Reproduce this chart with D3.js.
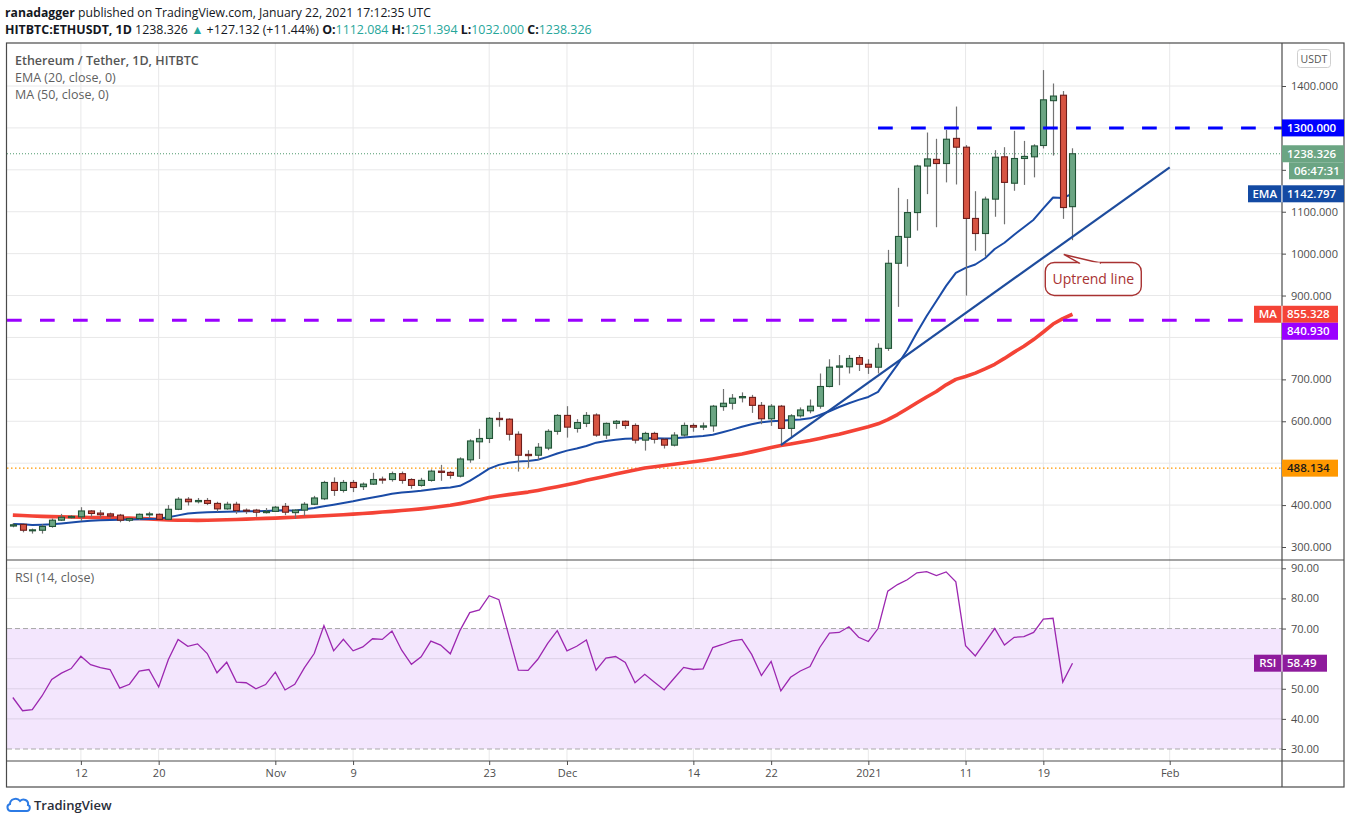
<!DOCTYPE html>
<html><head><meta charset="utf-8">
<script src="https://cdn.jsdelivr.net/npm/d3@7/dist/d3.min.js"></script>
<style>
html,body{margin:0;padding:0;background:#fff;}
svg{display:block;font-family:"Open Sans","Noto Sans",sans-serif;}
</style></head><body>
<svg id="c" width="1351" height="824"></svg>
<script>
// ---------------- DATA ----------------
const firstDay = "2020-10-05"; // daily candles, consecutive days
const opens = [350,354,340,340,349,364,370,372,386,381,
  379,376,364,368,378,378,366,390,414,408,
  411,404,391,402,388,388,382,385,397,382,
  388,402,415,454,435,454,444,450,462,461,
  475,461,447,459,481,478,469,508,551,559,
  607,605,569,521,519,536,576,614,583,595,
  615,567,595,600,590,555,571,557,543,567,
  590,586,589,635,643,656,657,638,606,636,
  583,613,625,636,683,729,730,752,736,729,
  774,977,1039,1098,1209,1225,1215,1275,1254,1084,
  1048,1130,1231,1168,1227,1231,1258,1365,1378,1112.084];
const highs = [357,356,344,354,368,379,376,395,388,388,
  382,379,370,380,384,380,400,419,419,417,
  417,408,408,408,392,391,393,398,405,390,
  407,422,458,466,460,460,454,477,468,480,
  480,464,465,485,496,481,514,557,582,610,
  622,607,576,531,548,581,617,636,605,622,
  619,597,603,602,595,575,575,559,574,597,
  595,597,639,677,665,669,663,646,641,639,
  617,633,652,714,748,758,758,758,748,786,
  1009,1157,1130,1212,1289,1274,1295,1351,1259,1149,
  1136,1247,1254,1293,1269,1261,1438,1406,1388,1251.394];
const lows = [347,335,332,332,346,362,368,362,372,370,
  368,359,360,365,369,364,364,388,399,404,
  400,384,389,379,379,372,380,384,376,368,
  374,400,412,422,430,431,436,448,451,456,
  451,439,444,456,458,463,466,501,510,548,
  587,554,480,489,508,531,568,561,573,586,
  563,558,582,582,547,530,547,535,540,563,
  575,579,575,625,628,645,620,593,589,543,
  562,609,619,630,681,686,714,720,713,714,
  768,873,969,1055,1142,1063,1170,1165,900,1007,
  993,1088,1070,1150,1164,1182,1251,1234,1083,1032];
const closes = [353,340,341,349,364,371,373,386,380,377,
  374,364,368,378,379,366,390,414,408,411,
  404,391,402,387,386,383,385,395,383,388,
  402,417,454,435,454,442,450,461,461,475,
  459,447,459,481,478,471,510,553,559,607,
  604,569,519,518,538,576,614,586,597,614,
  567,595,600,590,555,571,557,543,567,590,
  586,589,636,643,655,659,638,606,636,583,
  613,627,636,683,729,732,750,736,729,774,
  977,1041,1098,1209,1226,1215,1273,1254,1084,1048,
  1130,1230,1170,1227,1232,1257,1367,1376,1110,1238.326];
const ema20 = [355,354,352.5,353,354,356,358.5,361,362.5,363.6,
  364.5,365,365.5,366.3,367,367.6,371,375.5,380,381.5,
  383,383.5,384,385,385.2,385.5,386,387,387.5,386.5,
  390,393,397,401,405,409,414,418,422.5,427,
  430,432,434,437,440,442,446,458,472,487,
  496,501,504,505,508,515,523,530,535,541,
  549,553,556,558.5,559,559.3,559.3,559,559.3,561,
  563,565,568,574,580,587,593,597.5,600,601,
  603,604.5,607,615,624,634,643,651,658,670,
  703,735,770,812,851,887,923,954,966,974,
  989,1011,1026,1045,1063,1081,1108,1134,1133,1142.797];
const ma50 = [376,375,374,373,372.5,372,371.5,371,370.5,370,
  369.6,369.3,369,368,367,365.5,364.4,364,363.8,363.6,
  364,364.5,365,365.5,366.5,367.5,368.4,369,370,371,
  372.5,373.5,374.5,375.8,377,378.5,380,381.5,383.5,385,
  387,389,391,393.5,396.5,399.5,403.5,408,413,418,
  421.5,425,428,431,435,439.5,444,448.5,453.5,459,
  464,469,474,479,483.5,488.5,491.5,494.5,497.3,500.5,
  503.5,506.5,510,514,518,522,527,532,537.5,542,
  546,550,554,559,564,569,575,581,587,594,
  604,616,630,644,658,671,687,700,707,715,
  725,736,750,765,779,795,813,832,845,855.328];
const rsi14 = [47.1,42.7,43.1,47.6,53.1,55.2,56.7,60.8,58.0,57.0,
  56.4,50.2,51.5,55.9,56.4,50.6,59.7,66.4,64.1,64.9,
  61.7,55.3,58.8,52.2,52.0,50.0,51.4,55.5,49.6,51.5,
  57.0,61.7,71.0,62.6,66.4,62.6,63.9,66.6,66.4,69.2,
  62.8,58.1,60.6,65.8,64.5,61.6,69.4,75.3,76.2,80.9,
  79.6,67.9,56.2,56.1,59.8,65.0,69.3,62.6,64.1,66.2,
  56.2,60.2,60.7,58.7,52.0,54.8,52.2,49.6,53.4,57.1,
  56.4,56.6,63.7,64.7,65.9,66.4,61.4,54.4,59.1,49.3,
  53.8,55.9,57.4,63.7,68.5,68.7,70.6,67.1,65.7,70.0,
  82.4,84.6,86.2,88.5,88.9,87.6,88.8,85.5,64.3,60.9,
  65.4,70.0,64.5,67.1,67.3,68.7,73.1,73.4,52.2,58.49];

const timeTickDates = ["2020-10-12","2020-10-20","2020-11-01","2020-11-09","2020-11-23","2020-12-01","2020-12-14","2020-12-22","2021-01-01","2021-01-11","2021-01-19","2021-02-01"];
const timeTickLabels = ["12","20","Nov","9","23","Dec","14","22","2021","11","19","Feb"];
const priceTicks = [300,400,500,600,700,800,900,1000,1100,1200,1300,1400];
const rsiTicks = [30,40,50,60,70,80,90];

const resistanceLevel = 1300, resistanceFrom = "2021-01-02";
const supportLevel = 840.93;
const priorHighLevel = 488.134;
const lastPrice = 1238.326;
const countdown = "06:47:31";
const trendPoints = [["2020-12-23",543],["2021-02-01",1206]];
const calloutText = "Uptrend line";
const calloutAnchor = ["2021-01-21", 998];

// ---------------- LAYOUT ----------------
const L = 7, R = 1282, AX = 1344, TOP = 43, PB = 560, RB = 761, TB = 787;
const parse = s => new Date(s + "T00:00:00Z");
const day0 = parse(firstDay);
const dates = closes.map((_, i) => d3.utcDay.offset(day0, i));

const svg = d3.select("#c");
svg.append("rect").attr("width",1351).attr("height",824).attr("fill","#fff");

const x = d3.scaleUtc()
  .domain([new Date(Date.UTC(2020,9,4,9,36)), new Date(Date.UTC(2021,1,12,13,12))])
  .range([L, R]);
const y = d3.scaleLinear().domain([300,1400]).range([547,86]);
const yr = d3.scaleLinear().domain([30,90]).range([749,568.3]);

const defs = svg.append("defs");
defs.append("clipPath").attr("id","cp").append("rect").attr("x",L).attr("y",TOP).attr("width",R-L).attr("height",PB-TOP);
defs.append("clipPath").attr("id","cr").append("rect").attr("x",L).attr("y",PB).attr("width",R-L).attr("height",RB-PB);

const gridC = "#e8e8e9";
svg.append("g").selectAll("line").data(timeTickDates).join("line")
  .attr("x1", d => x(parse(d))).attr("x2", d => x(parse(d)))
  .attr("y1", TOP).attr("y2", RB).attr("stroke", gridC);
svg.append("g").selectAll("line").data(priceTicks).join("line")
  .attr("x1", L).attr("x2", R).attr("y1", d => y(d)).attr("y2", d => y(d)).attr("stroke", gridC);

// RSI band
svg.append("rect").attr("x", L).attr("width", R-L).attr("y", yr(70)).attr("height", yr(30)-yr(70)).attr("fill", "#f3e6fd");
svg.append("g").selectAll("line").data(rsiTicks.filter(v => v!==70 && v!==30)).join("line")
  .attr("x1", L).attr("x2", R).attr("y1", d => yr(d)).attr("y2", d => yr(d)).attr("stroke","rgba(0,0,0,0.09)");
svg.append("g").selectAll("line").data([70,30]).join("line")
  .attr("x1", L).attr("x2", R).attr("y1", d => yr(d)).attr("y2", d => yr(d))
  .attr("stroke","#a9a9a9").attr("stroke-dasharray","5,3");

// ---------------- PRICE PANE ----------------
const gp = svg.append("g").attr("clip-path","url(#cp)");
gp.append("line").attr("x1",L).attr("x2",R).attr("y1",y(priorHighLevel)).attr("y2",y(priorHighLevel))
  .attr("stroke","#ff9800").attr("stroke-width",1.4).attr("stroke-dasharray","1.5,2.5");
gp.append("line").attr("x1",L).attr("x2",R).attr("y1",y(lastPrice)).attr("y2",y(lastPrice))
  .attr("stroke","#4f9a6e").attr("stroke-width",1).attr("stroke-dasharray","1,2");

const lineGen = arr => d3.line().x((d,i) => x(dates[i])).y(d => y(d))(arr);
gp.append("path").attr("d", lineGen(ma50)).attr("fill","none").attr("stroke","#f44336").attr("stroke-width",3.6).attr("stroke-linejoin","round");
gp.append("path").attr("d", lineGen(ema20)).attr("fill","none").attr("stroke","#1a4ba6").attr("stroke-width",2).attr("stroke-linejoin","round");

// candles
const bw = 6;
const cg = gp.append("g");
dates.forEach((d, i) => {
  const up = closes[i] >= opens[i];
  const cx = Math.round(x(d)) + 0.5;
  cg.append("line").attr("x1",cx).attr("x2",cx).attr("y1",y(highs[i])).attr("y2",y(lows[i]))
    .attr("stroke","#737373").attr("stroke-width",1.2);
  const top = y(Math.max(opens[i], closes[i])), bot = y(Math.min(opens[i], closes[i]));
  cg.append("rect").attr("x", cx - bw/2).attr("width", bw)
    .attr("y", top).attr("height", Math.max(1, bot - top))
    .attr("fill", up ? "#6ba583" : "#d75442")
    .attr("stroke", up ? "#225437" : "#6d1d1b").attr("stroke-width", 1.1);
});

// trend line
gp.append("line")
  .attr("x1", x(parse(trendPoints[0][0]))).attr("y1", y(trendPoints[0][1]))
  .attr("x2", x(parse(trendPoints[1][0]))).attr("y2", y(trendPoints[1][1]))
  .attr("stroke","#1e4c9d").attr("stroke-width",2.2);

// horizontal levels
gp.append("line").attr("x1", L).attr("x2", R).attr("y1", y(supportLevel)).attr("y2", y(supportLevel))
  .attr("stroke","#9a00ff").attr("stroke-width",3).attr("stroke-dasharray","14.7,18.3");
gp.append("line").attr("x1", x(parse(resistanceFrom))).attr("x2", R).attr("y1", y(resistanceLevel)).attr("y2", y(resistanceLevel))
  .attr("stroke","#0000ff").attr("stroke-width",3).attr("stroke-dasharray","14.7,18.3");

// callout
{
  const tx = x(parse(calloutAnchor[0])) + 1, ty = y(calloutAnchor[1]);
  const bx = tx - 18.5, by = ty + 8, bwid = 96, bh = 33;
  const cgp = gp.append("g");
  cgp.append("rect").attr("x",bx).attr("y",by).attr("width",bwid).attr("height",bh).attr("rx",9)
    .attr("fill","#fff").attr("stroke","#a83232").attr("stroke-width",1.4);
  cgp.append("path").attr("d", `M${tx+16},${by+0.8} L${tx},${ty} L${tx+37},${by+0.8}`)
    .attr("fill","#fff").attr("stroke","#a83232").attr("stroke-width",1.4).attr("stroke-linejoin","miter");
  cgp.append("line").attr("x1",tx+17).attr("x2",tx+36).attr("y1",by+0.8).attr("y2",by+0.8).attr("stroke","#fff").attr("stroke-width",1.6);
  cgp.append("text").attr("x", bx + bwid/2).attr("y", by + 21.5).attr("text-anchor","middle")
    .attr("font-size",14).attr("fill","#a83232").text(calloutText);
}

// ---------------- RSI PANE ----------------
const gr = svg.append("g").attr("clip-path","url(#cr)");
gr.append("path").attr("d", d3.line().x((d,i) => x(dates[i])).y(d => yr(d))(rsi14))
  .attr("fill","none").attr("stroke","#9c27b0").attr("stroke-width",1.3);

// ---------------- FRAME ----------------
const frameC = "#4a4a4a";
svg.append("rect").attr("x",L-0.5).attr("y",TOP).attr("width",AX-L+0.5).attr("height",TB-TOP).attr("fill","none").attr("stroke",frameC).attr("stroke-width",1.2);
svg.append("line").attr("x1",R).attr("x2",R).attr("y1",TOP).attr("y2",TB).attr("stroke",frameC).attr("stroke-width",1.2);
svg.append("line").attr("x1",L).attr("x2",AX).attr("y1",PB).attr("y2",PB).attr("stroke",frameC).attr("stroke-width",1.2);
svg.append("line").attr("x1",L).attr("x2",AX).attr("y1",RB).attr("y2",RB).attr("stroke",frameC).attr("stroke-width",1.2);

// ---------------- AXES ----------------
const axC = "#4d4d4d";
// value labels drawn as boxes on the scale (they hide the grid labels beneath them)
const emaLast = ema20[ema20.length-1], maLast = ma50[ma50.length-1], rsiLast = rsi14[rsi14.length-1];
const priceBoxYs = [y(resistanceLevel), y(lastPrice), y(lastPrice)+17, y(emaLast), y(maLast), y(maLast)+17, y(priorHighLevel)];
const rsiBoxYs = [yr(rsiLast)];
const hidden = (v, sc, ys) => ys.some(b => Math.abs(sc(v) - b) < 14);

const yAxis = d3.axisRight(y).tickValues(priceTicks).tickSize(4).tickPadding(5)
  .tickFormat(d => hidden(d, y, priceBoxYs) ? "" : d3.format(".3f")(d));
const ga = svg.append("g").attr("transform",`translate(${R},0)`).call(yAxis);
ga.select(".domain").remove();
ga.selectAll("line").attr("stroke",axC);
ga.selectAll("text").attr("fill",axC).attr("font-size",11).attr("font-family","'Open Sans',sans-serif");

const rAxis = d3.axisRight(yr).tickValues(rsiTicks).tickSize(4).tickPadding(5)
  .tickFormat(d => hidden(d, yr, rsiBoxYs) ? "" : d3.format(".2f")(d));
const gra = svg.append("g").attr("transform",`translate(${R},0)`).call(rAxis);
gra.select(".domain").remove();
gra.selectAll("line").attr("stroke",axC);
gra.selectAll("text").attr("fill",axC).attr("font-size",11).attr("font-family","'Open Sans',sans-serif");

const xAxis = d3.axisBottom(x).tickValues(timeTickDates.map(parse)).tickSize(4).tickPadding(4)
  .tickFormat((d,i) => timeTickLabels[i]);
const gx = svg.append("g").attr("transform",`translate(0,${RB})`).call(xAxis);
gx.select(".domain").remove();
gx.selectAll("line").attr("stroke",axC);
gx.selectAll("text").attr("fill",axC).attr("font-size",11).attr("font-family","'Open Sans',sans-serif");

// USDT box
svg.append("rect").attr("x",1297.5).attr("y",49.5).attr("width",33).attr("height",18).attr("rx",3).attr("fill","#fff").attr("stroke","#cfcfcf");
svg.append("text").attr("x",1314).attr("y",62.5).attr("text-anchor","middle").attr("font-size",10.5).attr("fill","#555").text("USDT");

// value boxes
function valBox(x0, w, cy, fill, txt, color, anchor) {
  svg.append("rect").attr("x",x0).attr("y",cy-8.5).attr("width",w).attr("height",17).attr("fill",fill);
  svg.append("text").attr("x", anchor === "middle" ? x0 + w/2 : x0 + 5).attr("y", cy + 4)
    .attr("text-anchor", anchor === "middle" ? "middle" : "start")
    .attr("font-size",11.5).attr("font-weight",600).attr("fill",color||"#fff").text(txt);
}
const f3 = d3.format(".3f");
valBox(R, AX-R, y(resistanceLevel), "#0000ff", f3(resistanceLevel));
valBox(R, AX-R, y(lastPrice), "#6ba583", f3(lastPrice));
valBox(1289, AX-1289, y(lastPrice)+17, "#6ba583", countdown, "#fff");
valBox(1248, 33.5, y(emaLast), "#134aa3", "EMA", "#fff", "middle");
valBox(R, AX-R, y(emaLast), "#134aa3", f3(emaLast));
valBox(1254, 27.5, y(maLast), "#f44336", "MA", "#fff", "middle");
valBox(R, 56, y(maLast), "#f44336", f3(maLast));
valBox(R, 56, y(maLast) + 17, "#9a00ff", f3(supportLevel));
valBox(R, 56, y(priorHighLevel), "#ff9800", f3(priorHighLevel), "#1a1a1a");
valBox(1254, 27.5, yr(rsiLast), "#8e1b9c", "RSI", "#fff", "middle");
valBox(R, 45, yr(rsiLast), "#8e1b9c", d3.format(".2f")(rsiLast));
svg.selectAll(null).data([y(emaLast), y(maLast), yr(rsiLast)]).join("line")
  .attr("x1",R).attr("x2",R).attr("y1",d=>d-8.5).attr("y2",d=>d+8.5).attr("stroke","#fff").attr("stroke-width",1);

// ---------------- TEXT ----------------
const t1 = svg.append("text").attr("x",5).attr("y",17).attr("font-size",12.2).attr("fill","#131722");
t1.append("tspan").attr("font-weight",700).text("ranadagger");
t1.append("tspan").text(" published on TradingView.com, January 22, 2021 17:12:35 UTC");

const teal = "#26a69a";
const t2 = svg.append("text").attr("x",5).attr("y",34).attr("font-size",12.4).attr("fill","#131722");
t2.append("tspan").attr("font-weight",700).text("HITBTC:ETHUSDT, 1D");
t2.append("tspan").text(" 1238.326 ");
t2.append("tspan").attr("fill",teal).text("▲");
t2.append("tspan").text(" +127.132 (+11.44%) ");
[["O:","1112.084"],["H:","1251.394"],["L:","1032.000"],["C:","1238.326"]].forEach(([k,v],i) => {
  t2.append("tspan").attr("font-weight",700).text((i? " ":"") + k);
  t2.append("tspan").attr("fill",teal).text(v);
});

svg.append("text").attr("x",15).attr("y",65).attr("font-size",12.5).attr("font-weight",600).attr("fill","#555").text("Ethereum / Tether, 1D, HITBTC");
svg.append("text").attr("x",15).attr("y",82).attr("font-size",12.5).attr("fill","#5f5f5f").text("EMA (20, close, 0)");
svg.append("text").attr("x",15).attr("y",99).attr("font-size",12.5).attr("fill","#5f5f5f").text("MA (50, close, 0)");
svg.append("text").attr("x",15).attr("y",582).attr("font-size",12.5).attr("fill","#5f5f5f").text("RSI (14, close)");

// logo
svg.append("path").attr("d","M11,811 C7,811 6,805 10,804 C10,799 17,797 20,801 C23,798 29,800 28,805 C31,806 30,811 27,811 Z")
  .attr("fill","none").attr("stroke","#2c7be5").attr("stroke-width",2);
svg.append("text").attr("x",34).attr("y",810).attr("font-size",13).attr("font-weight",600).attr("fill","#2a2e39").text("TradingView");
</script>
</body></html>
